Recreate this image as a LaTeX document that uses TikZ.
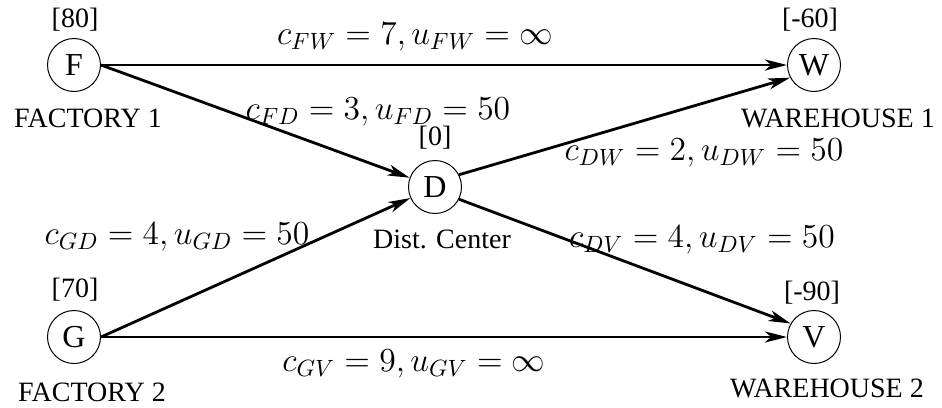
\RequirePackage{fix-cm}
\documentclass[tikz,border=0pt]{standalone}
\usepackage[no-math]{fontspec}
\setmainfont{Liberation Serif}
\usetikzlibrary{arrows.meta}
\tikzset{
  netnode/.style={circle,draw,line width=0.5pt,inner sep=0pt,minimum size=26.5pt,font=\fontsize{16}{18}\selectfont},
  txt/.style={inner sep=0pt,font=\fontsize{14}{16}\selectfont},
  mlabel/.style={inner sep=0pt,font=\fontsize{16.8}{19}\selectfont},
  flow/.style={line width=1.4pt,-{Stealth[length=11pt,width=5.5pt,inset=3pt]}}
}
\begin{document}
\begin{tikzpicture}[x=0.5pt,y=-0.5pt]
\useasboundingbox (0,0) rectangle (942,407);
\node[netnode] (F) at (74,65) {F};
\node[netnode] (W) at (814,65) {W};
\node[netnode] (D) at (435,187) {D};
\node[netnode] (G) at (74,337) {G};
\node[netnode] (V) at (814,337) {V};

\node[txt] (sF) at (75,20) {[80]};
\node[txt] (sW) at (810,20) {[-60]};
\node[txt] (sD) at (435,138) {[0]};
\node[txt] (sG) at (75,290) {[70]};
\node[txt] (sV) at (812,293) {[-90]};

\node[txt] (nF) at (88,118) {FACTORY 1};
\node[txt] (nW) at (838,118) {WAREHOUSE 1};
\node[txt] (nD) at (442,239) {Dist. Center};
\node[txt] (nG) at (92,392) {FACTORY 2};
\node[txt] (nV) at (827,388) {WAREHOUSE 2};

\draw[flow] (F.east) -- (W.west);
\draw[flow] (F.east) -- (D);
\draw[flow] (G.east) -- (D);
\draw[flow] (G.east) -- (V.west);
\draw[flow] (D.27) -- (W.208);
\draw[flow] (D.-27) -- (V.150);

\node[mlabel] (lFW) at (415,37) {$c_{FW}=7,u_{FW}=\infty$};
\node[mlabel] (lFD) at (378,112) {$c_{FD}=3,u_{FD}=50$};
\node[mlabel] (lGD) at (177,237) {$c_{GD}=4,u_{GD}=50$};
\node[mlabel] (lDW) at (704,153) {$c_{DW}=2,u_{DW}=50$};
\node[mlabel] (lDV) at (702,240) {$c_{DV}=4,u_{DV}=50$};
\node[mlabel] (lGV) at (414,364) {$c_{GV}=9,u_{GV}=\infty$};
\end{tikzpicture}
\end{document}
